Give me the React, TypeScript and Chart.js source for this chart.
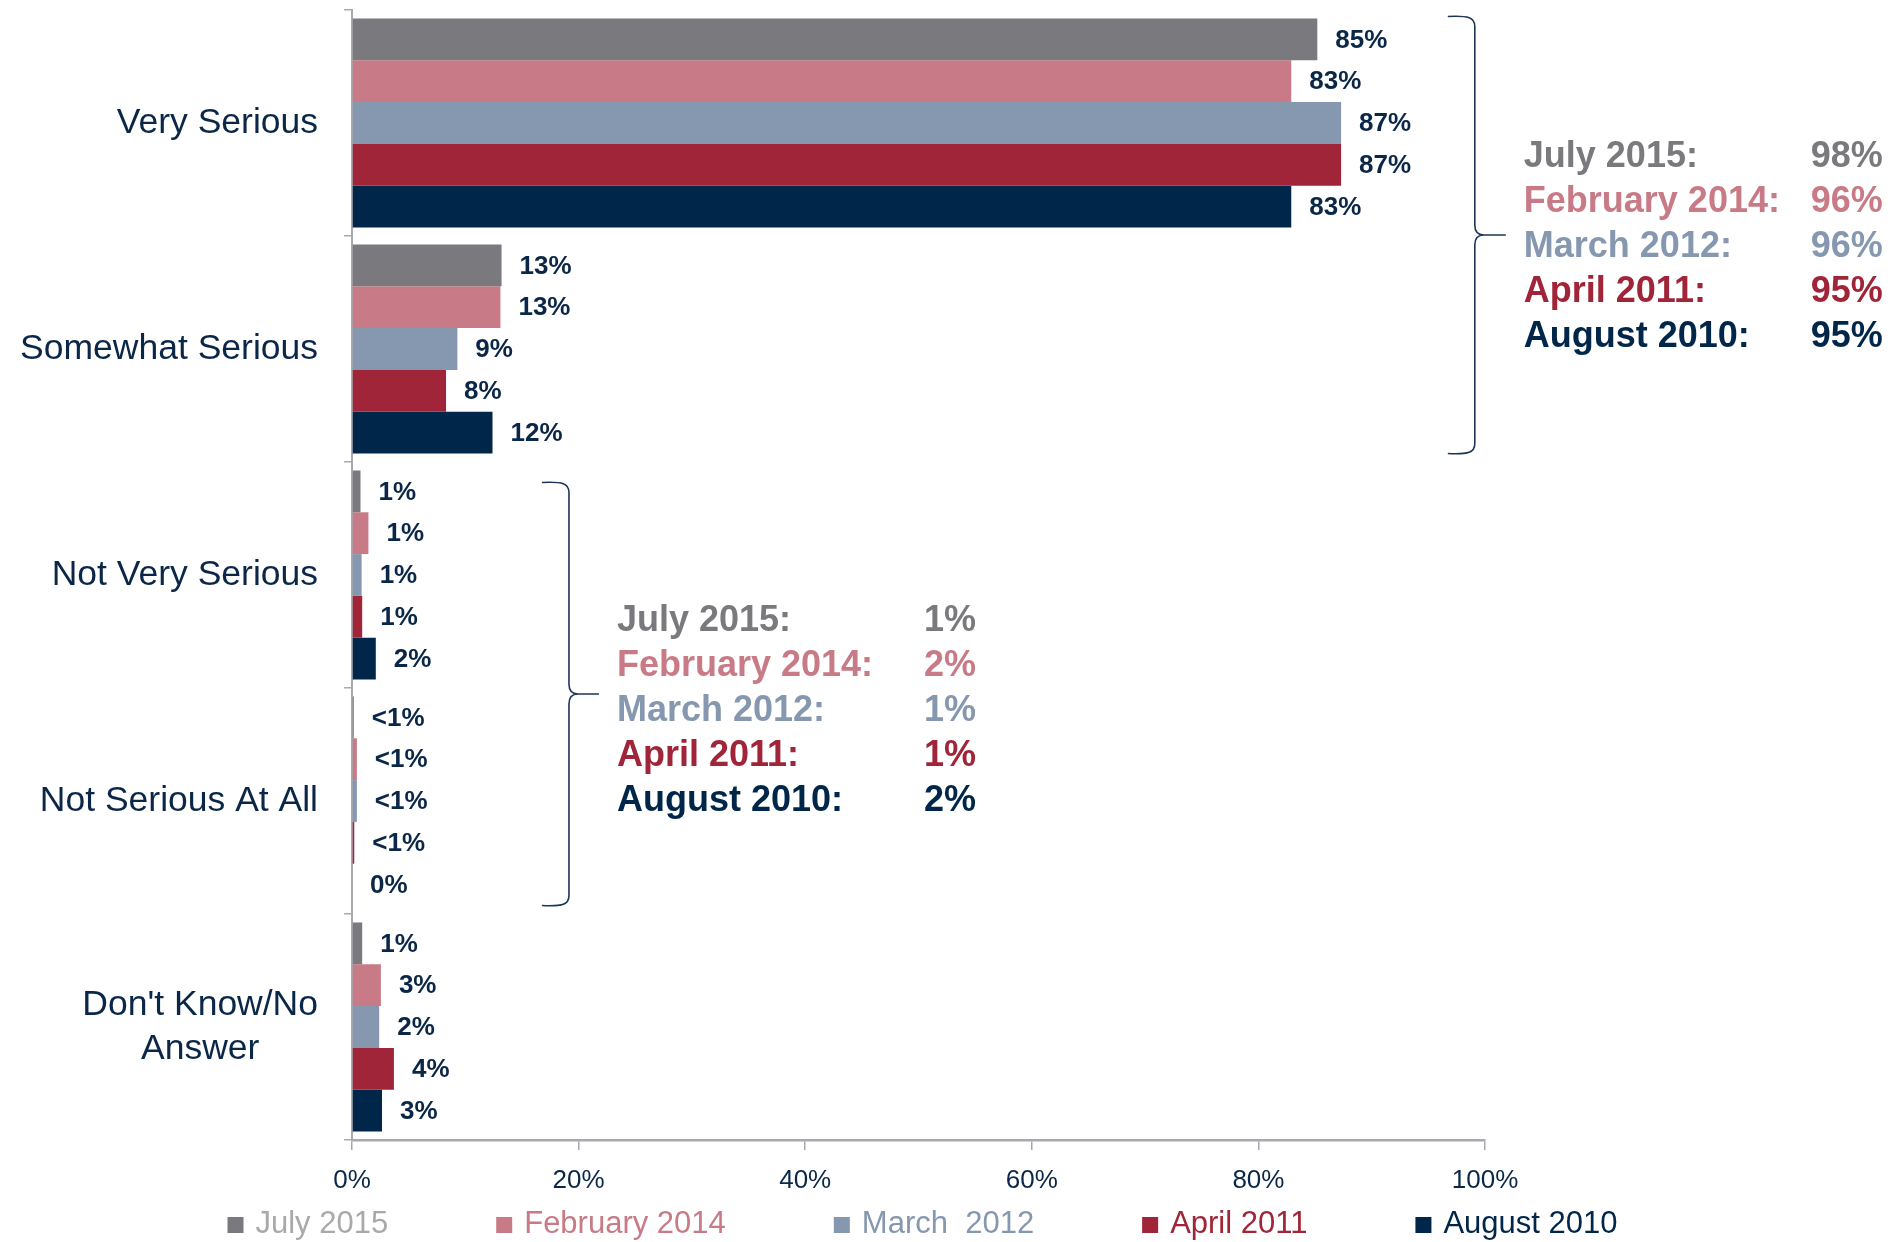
import React, { useEffect, useRef } from 'react';
import { Chart, registerables } from 'chart.js';

Chart.register(...registerables);

const FONT = '"Liberation Sans", Arial, sans-serif';

const categories: (string | string[])[] = [
  'Very Serious',
  'Somewhat Serious',
  'Not Very Serious',
  'Not Serious At All',
  ["Don't Know/No", 'Answer'],
];
const seriesNames = ['July 2015', 'February 2014', 'March  2012', 'April 2011', 'August 2010'];
const july2015 = [85.2, 13.2, 0.75, 0.16, 0.9];
const feb2014 = [82.9, 13.1, 1.45, 0.43, 2.55];
const mar2012 = [87.3, 9.3, 0.85, 0.43, 2.4];
const apr2011 = [87.3, 8.3, 0.9, 0.2, 3.7];
const aug2010 = [82.9, 12.4, 2.1, 0, 2.65];
const seriesValues = [july2015, feb2014, mar2012, apr2011, aug2010];
const xTicks = [0, 20, 40, 60, 80, 100];

const calloutNames = ['July 2015:', 'February 2014:', 'March 2012:', 'April 2011:', 'August 2010:'];
const seriousTotals = ['98%', '96%', '96%', '95%', '95%'];
const notSeriousTotals = ['1%', '2%', '1%', '1%', '2%'];

const barColors = ['#7A7A7E', '#C87B86', '#8697B0', '#A12539', '#002649'];
const legendTextColors = ['#A9A9AC', '#C87B86', '#8697B0', '#A12539', '#002649'];
const calloutColors = ['#7A7A7E', '#C87B86', '#8697B0', '#A12539', '#002649'];
const NAVY = '#0B2747';
const AXIS = '#A8A8AE';

function fmt(v: number) {
  if (v === 0) return '0%';
  if (v < 0.5) return '<1%';
  return Math.round(v) + '%';
}

function drawBrace(ctx: CanvasRenderingContext2D, xV: number, top: number, bottom: number, curl: number, tip: number) {
  const mid = (top + bottom) / 2;
  const r = 10;
  ctx.save();
  ctx.strokeStyle = '#1E3556';
  ctx.lineWidth = 1.6;
  ctx.beginPath();
  ctx.moveTo(xV - curl, top);
  ctx.bezierCurveTo(xV - 6, top - 1, xV, top + 1, xV, top + r);
  ctx.lineTo(xV, mid - r);
  ctx.quadraticCurveTo(xV, mid, xV + 9, mid);
  ctx.lineTo(xV + tip, mid);
  ctx.moveTo(xV + 9, mid);
  ctx.quadraticCurveTo(xV, mid, xV, mid + r);
  ctx.lineTo(xV, bottom - r);
  ctx.bezierCurveTo(xV, bottom - 1, xV - 6, bottom + 1, xV - curl, bottom);
  ctx.stroke();
  ctx.restore();
  return mid;
}

const overlay = {
  id: 'overlay',
  afterDatasetsDraw(chart: any) {
    const ctx: CanvasRenderingContext2D = chart.ctx;
    const xs = chart.scales.x;
    const ys = chart.scales.y;
    const area = chart.chartArea;

    // data labels
    ctx.save();
    ctx.font = `bold 26px ${FONT}`;
    ctx.fillStyle = NAVY;
    ctx.textAlign = 'left';
    ctx.textBaseline = 'middle';
    chart.data.datasets.forEach((ds: any, di: number) => {
      const meta = chart.getDatasetMeta(di);
      meta.data.forEach((bar: any, i: number) => {
        ctx.fillText(fmt(ds.data[i]), bar.x + 18, bar.y + 1);
      });
    });
    ctx.restore();

    // category labels
    ctx.save();
    ctx.font = `35.5px ${FONT}`;
    ctx.fillStyle = NAVY;
    ctx.textBaseline = 'middle';
    const rightX = area.left - 34;
    categories.forEach((lab, i) => {
      const y = ys.getPixelForValue(i);
      if (Array.isArray(lab)) {
        const w = Math.max(...lab.map((l) => ctx.measureText(l).width));
        const cx = rightX - w / 2;
        ctx.textAlign = 'center';
        const lh = 43.6;
        lab.forEach((l, k) => {
          ctx.fillText(l, cx, y + (k - (lab.length - 1) / 2) * lh);
        });
      } else {
        ctx.textAlign = 'right';
        ctx.fillText(lab, rightX, y);
      }
    });
    ctx.restore();

    // braces + callouts
    const m0 = chart.getDatasetMeta(0).data;
    const m4 = chart.getDatasetMeta(4).data;
    const bh = m0[0].height;

    const drawCallout = (xVal: number, top: number, bottom: number, values: string[], dy: number, tip: number) => {
      const xV = xs.getPixelForValue(xVal);
      const mid = drawBrace(ctx, xV, top, bottom, 27, tip);
      const tx = xV + tip + 18;
      ctx.save();
      ctx.font = `bold 36px ${FONT}`;
      ctx.textBaseline = 'middle';
      calloutNames.forEach((n, i) => {
        const y = mid + dy + (i - 2) * 44.8;
        ctx.fillStyle = calloutColors[i];
        ctx.textAlign = 'left';
        ctx.fillText(n, tx, y);
        ctx.textAlign = 'right';
        ctx.fillText(values[i], tx + 359, y);
      });
      ctx.restore();
    };

    drawCallout(99.1, m0[0].y - bh / 2 - 2, m4[1].y + bh / 2, seriousTotals, 12, 31);
    drawCallout(19.15, m0[2].y - bh / 2 + 12, m4[3].y + bh / 2, notSeriousTotals, 17, 30);

    // legend
    ctx.save();
    ctx.font = `31px ${FONT}`;
    ctx.textBaseline = 'middle';
    ctx.textAlign = 'left';
    const box = 16;
    const gapBoxText = 12;
    const gapItems = 108;
    const widths = seriesNames.map((n) => box + gapBoxText + ctx.measureText(n).width);
    const total = widths.reduce((a, b) => a + b, 0) + gapItems * (seriesNames.length - 1);
    let x = (area.left + area.right) / 2 - total / 2 + 4;
    const ly = chart.height - 18;
    seriesNames.forEach((n, i) => {
      ctx.fillStyle = barColors[i];
      ctx.fillRect(x, ly - box / 2 + 1, box, box);
      ctx.fillStyle = legendTextColors[i];
      ctx.fillText(n, x + box + gapBoxText, ly);
      x += widths[i] + gapItems;
    });
    ctx.restore();
  },
};

export default function App() {
  const ref = useRef<HTMLCanvasElement>(null);
  useEffect(() => {
    const prevMargin = document.body.style.marginBottom;
    document.body.style.marginBottom = '0px';
    const chart = new Chart(ref.current as HTMLCanvasElement, {
      type: 'bar',
      data: {
        labels: categories as any,
        datasets: seriesNames.map((n, i) => ({
          label: n,
          data: seriesValues[i],
          backgroundColor: barColors[i],
          borderWidth: 0,
          barPercentage: 1,
          categoryPercentage: 0.925,
        })),
      },
      options: {
        indexAxis: 'y',
        responsive: false,
        animation: false,
        layout: { padding: { top: 2, bottom: 46, left: 0, right: 405 } },
        plugins: {
          legend: { display: false },
          tooltip: { enabled: false },
        },
        scales: {
          x: {
            min: 0,
            max: 100,
            afterBuildTicks: (scale: any) => {
              scale.ticks = xTicks.map((v) => ({ value: v }));
            },
            afterFit: (scale: any) => {
              scale.height = 56;
            },
            ticks: {
              callback: (v: any) => v + '%',
              font: { family: FONT, size: 26 },
              color: NAVY,
              padding: 15,
            },
            grid: {
              drawOnChartArea: false,
              drawTicks: true,
              tickLength: 10,
              color: AXIS,
              lineWidth: 1.5,
            },
            border: { display: true, color: AXIS, width: 2.5 },
          },
          y: {
            afterFit: (scale: any) => {
              scale.width = 344;
            },
            ticks: { display: false },
            grid: {
              offset: true,
              drawOnChartArea: false,
              drawTicks: true,
              tickLength: 8,
              color: AXIS,
              lineWidth: 1.5,
            },
            border: { display: true, color: AXIS, width: 2 },
          },
        },
      },
      plugins: [overlay],
    } as any);
    return () => {
      chart.destroy();
      document.body.style.marginBottom = prevMargin;
    };
  }, []);
  return (
    <div style={{ width: 1882, height: 1234 }}>
      <canvas ref={ref} width={1882} height={1234} style={{ display: 'block' }} />
    </div>
  );
}
